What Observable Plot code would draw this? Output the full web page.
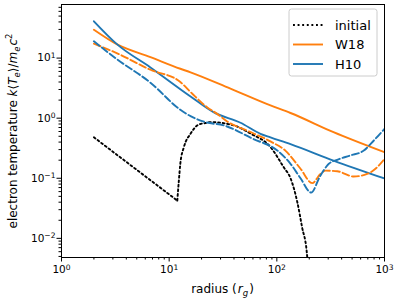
<!DOCTYPE html>
<html>
<head>
<meta charset="utf-8">
<script src="https://cdn.jsdelivr.net/npm/d3@7"></script>
<script src="https://cdn.jsdelivr.net/npm/@observablehq/plot@0.6"></script>
<style>
  html, body { margin: 0; padding: 0; background: white; }
  #chart { width: 399px; height: 302px; }
</style>
</head>
<body>
<div id="chart"></div>
<script>
// ---- data ----
const initialR = [2, 11.9, 12.3, 12.7, 13.7, 15.8, 18.8, 21.7, 24.2, 39.6, 56.9, 87.3, 116, 134, 155, 172, 189, 196];
const initialT = [0.48, 0.0425, 0.091, 0.176, 0.33, 0.55, 0.785, 0.83, 0.86, 0.76, 0.556, 0.33, 0.152, 0.1, 0.04, 0.015, 0.0063, 0.003];

const w18R = [2, 3.29, 6.7, 12.7, 15.8, 37.1, 87.3, 134, 336, 1000];
const w18T = [29.7, 16.9, 10.4, 6.65, 5.8, 3.1, 1.63, 1.22, 0.585, 0.271];

const h10R = [2, 3.29, 6.7, 15.8, 25.8, 46, 70.5, 87.3, 134, 336, 1000];
const h10T = [41, 16.9, 7.0, 2.3, 1.26, 0.84, 0.55, 0.48, 0.37, 0.197, 0.099];

const w18dR = [2, 3.29, 6.7, 12.7, 16.4, 22.5, 27.9, 34.6, 53, 87.3, 120, 166, 213, 254, 283, 364, 518, 690, 824, 1000];
const w18dT = [17.4, 12, 6.4, 4.0, 2.55, 1.52, 1.18, 0.88, 0.62, 0.41, 0.288, 0.144, 0.083, 0.118, 0.134, 0.131, 0.107, 0.118, 0.144, 0.21];

const h10dR = [2, 3.29, 6.7, 12.7, 15.8, 21.7, 32, 60.6, 101, 134, 166, 208, 254, 304, 364, 483, 642, 796, 1000];
const h10dT = [19, 9.5, 3.9, 1.38, 1.08, 0.86, 0.76, 0.45, 0.29, 0.174, 0.1, 0.058, 0.111, 0.174, 0.203, 0.24, 0.289, 0.425, 0.665];

const xMajor = [1, 10, 100, 1000];
const xMajorLabels = ["10^0", "10^1", "10^2", "10^3"];
const yMajor = [0.01, 0.1, 1, 10];
const yMajorLabels = ["10^\u22122", "10^\u22121", "10^0", "10^1"];
const legendNames = ["initial", "W18", "H10"];

const ORANGE = "#ff7f0e", BLUE = "#1f77b4";

const toRows = (R, T) => R.map((r, i) => ({r, T: T[i]}));
const initRows = toRows(initialR, initialT);
const initA = initRows.slice(0, 2);
const initB = initRows.slice(1);

const minorOf = (lo, hi) => {
  const out = [];
  for (let d = lo; d < hi; d *= 10) for (let k = 2; k <= 9; k++) out.push(k * d);
  return out;
};
const xMinor = minorOf(1, 1000);
const yMinor = minorOf(0.001, 100).filter(v => v >= 0.0048 && v <= 78);

const lblFmt = (vals, labels) => v => labels[vals.indexOf(v)] ?? "";

const svg = Plot.plot({
  width: 399, height: 302,
  marginLeft: 61, marginRight: 15, marginTop: 4, marginBottom: 45,
  x: {type: "log", domain: [1, 1000]},
  y: {type: "log", domain: [0.0048, 78]},
  style: {fontFamily: "DejaVu Sans", fontSize: "10px", background: "white", color: "black"},
  marks: [
    Plot.axisX(xMinor, {tickSize: 2.5, tickFormat: () => "", label: null}),
    Plot.axisX(xMajor, {tickSize: 4.5, tickPadding: 3.5, tickFormat: lblFmt(xMajor, xMajorLabels), label: null, fontSize: 10.5}),
    Plot.axisY(yMinor, {tickSize: 2.5, tickFormat: () => "", label: null}),
    Plot.axisY(yMajor, {tickSize: 4.5, tickPadding: 1.5, tickFormat: lblFmt(yMajor, yMajorLabels), label: null, fontSize: 10.5}),
    Plot.line(initA, {x: "r", y: "T", stroke: "black", strokeWidth: 1.9, strokeDasharray: "1.9,2.7", clip: true}),
    Plot.line(initB, {x: "r", y: "T", stroke: "black", strokeWidth: 1.9, strokeDasharray: "1.9,2.7", curve: "monotone-x", clip: true}),
    Plot.line(toRows(w18R, w18T), {x: "r", y: "T", stroke: ORANGE, strokeWidth: 1.9, curve: "monotone-x", clip: true}),
    Plot.line(toRows(h10R, h10T), {x: "r", y: "T", stroke: BLUE, strokeWidth: 1.9, curve: "monotone-x", clip: true}),
    Plot.line(toRows(w18dR, w18dT), {x: "r", y: "T", stroke: ORANGE, strokeWidth: 1.9, strokeDasharray: "7,3", curve: "monotone-x", clip: true}),
    Plot.line(toRows(h10dR, h10dT), {x: "r", y: "T", stroke: BLUE, strokeWidth: 1.9, strokeDasharray: "7,3", curve: "monotone-x", clip: true}),
    Plot.frame({stroke: "black", strokeWidth: 1})
  ]
});
document.getElementById("chart").append(svg);

const S = d3.select(svg);
// superscript tick labels
S.selectAll('g[aria-label$="tick label"] text').each(function() {
  const t = this.textContent;
  if (!t.includes("^")) return;
  const [b, e] = t.split("^");
  const el = d3.select(this);
  el.text(null);
  el.append("tspan").text(b);
  el.append("tspan").attr("dy", "-0.45em").attr("font-size", "0.72em").text(e);
});

// axis labels
const xl = S.append("text")
  .attr("x", 222.5).attr("y", 293)
  .attr("text-anchor", "middle")
  .attr("font-family", "DejaVu Sans").attr("font-size", 12).attr("fill", "black");
xl.append("tspan").text("radius (");
xl.append("tspan").attr("font-style", "italic").attr("dx", 1).text("r");
xl.append("tspan").attr("font-style", "italic").attr("font-size", 8.5).attr("dy", 3).text("g");
xl.append("tspan").attr("dy", -3).attr("dx", 1).text(")");

const yl = S.append("text")
  .attr("transform", "translate(17,131) rotate(-90)")
  .attr("text-anchor", "middle")
  .attr("font-family", "DejaVu Sans").attr("font-size", 12).attr("fill", "black");
yl.append("tspan").text("electron temperature ");
yl.append("tspan").attr("font-style", "italic").text("k");
yl.append("tspan").text("\u27E8");
yl.append("tspan").attr("font-style", "italic").text("T");
yl.append("tspan").attr("font-style", "italic").attr("font-size", 8.5).attr("dy", 3).text("e");
yl.append("tspan").attr("dy", -3).text("\u27E9/");
yl.append("tspan").attr("font-style", "italic").text("m");
yl.append("tspan").attr("font-style", "italic").attr("font-size", 8.5).attr("dy", 3).text("e");
yl.append("tspan").attr("font-style", "italic").attr("dy", -3).attr("dx", 1).text("c");
yl.append("tspan").attr("font-size", 8.5).attr("dy", -5).text("2");

// legend
const lg = S.append("g");
lg.append("rect").attr("x", 289).attr("y", 9).attr("width", 88).attr("height", 67).attr("rx", 2.5)
  .attr("fill", "white").attr("fill-opacity", 0.8).attr("stroke", "#cccccc").attr("stroke-width", 1);
const legStyles = [
  {stroke: "black", dash: "1.9,2.7"},
  {stroke: ORANGE, dash: null},
  {stroke: BLUE, dash: null}
];
legendNames.forEach((name, i) => {
  const y = 25 + i * 19.5;
  lg.append("line").attr("x1", 293).attr("x2", 323).attr("y1", y).attr("y2", y)
    .attr("stroke", legStyles[i].stroke).attr("stroke-width", 1.9)
    .attr("stroke-dasharray", legStyles[i].dash);
  lg.append("text").attr("x", 335).attr("y", y + 4.6).attr("text-anchor", "start")
    .attr("font-family", "DejaVu Sans").attr("font-size", 13).attr("fill", "black").text(name);
});
</script>
</body>
</html>
